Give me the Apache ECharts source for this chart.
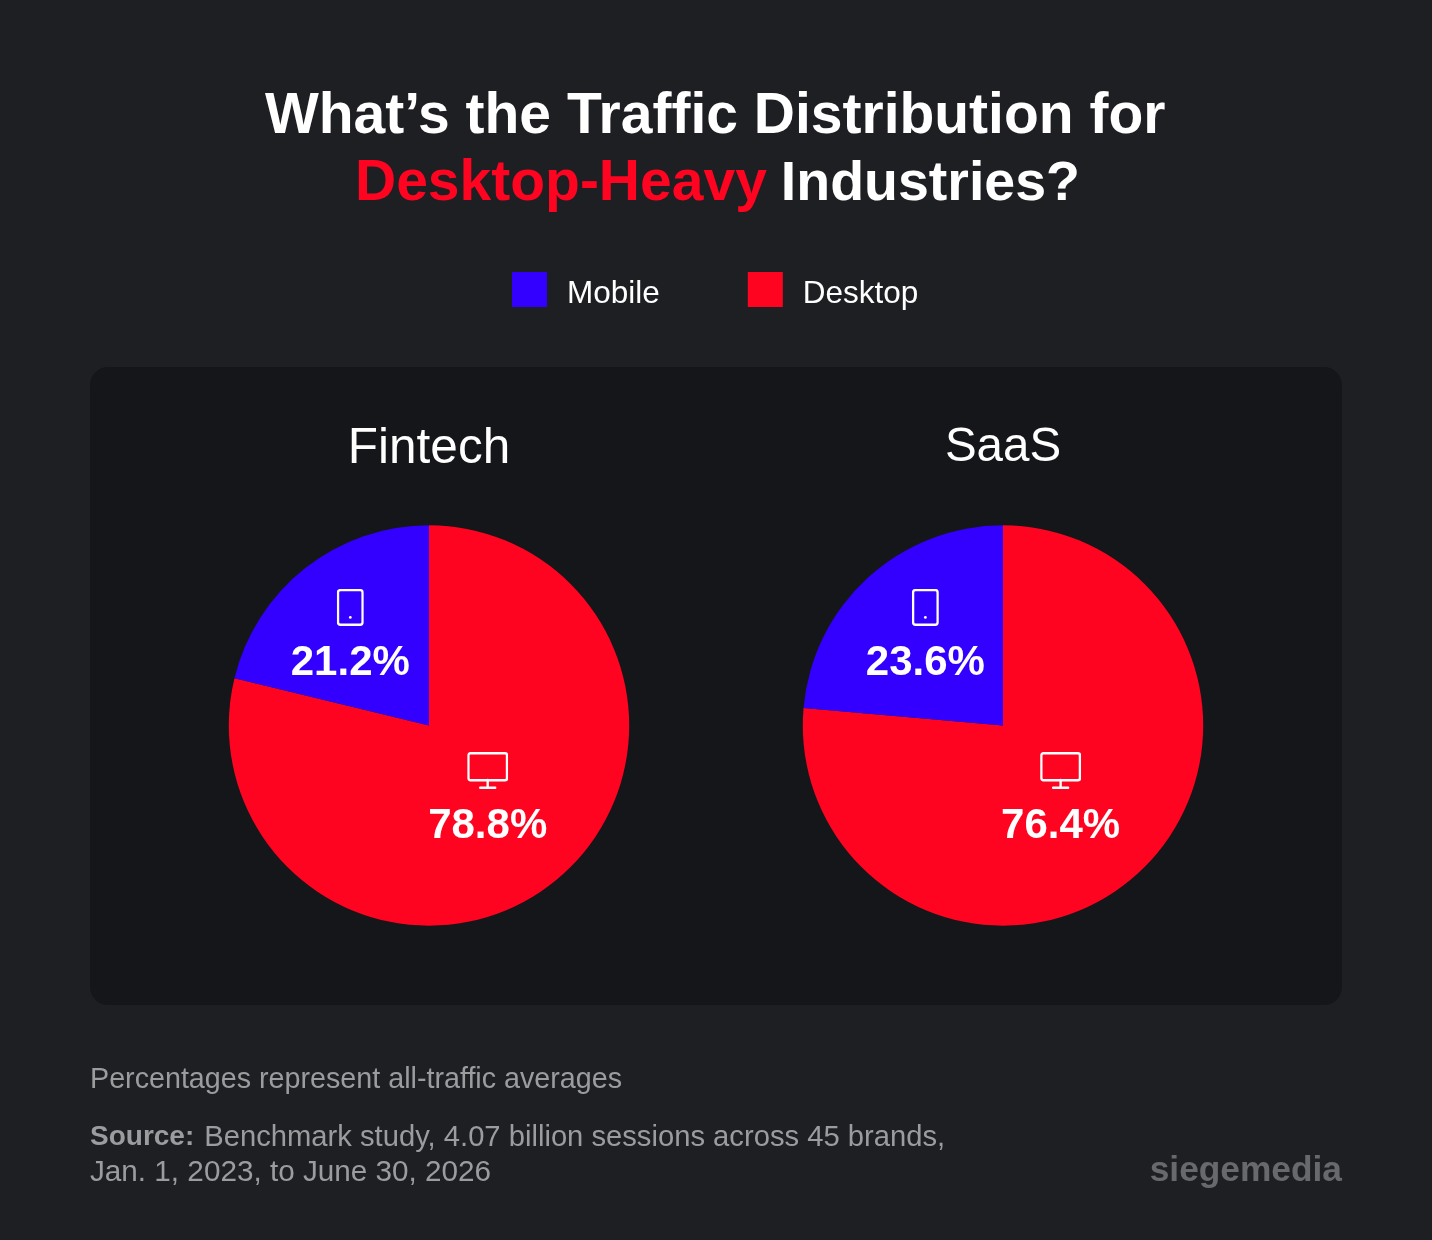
<!DOCTYPE html>
<html>
<head>
<meta charset="utf-8">
<style>html,body{margin:0;padding:0;background:#1e1f23}#c{width:1432px;height:1240px}</style>
<script src="https://cdn.jsdelivr.net/npm/echarts@6/dist/echarts.min.js"></script>
</head>
<body>
<div id="c"></div>
<script>
const segments = ['Mobile', 'Desktop'];
const industries = ['Fintech', 'SaaS'];
const mobileShare = [21.2, 23.6];
const desktopShare = [78.8, 76.4];
const titleLine1 = 'What’s the Traffic Distribution for';
const titleRed = 'Desktop-Heavy';
const titleRest = 'Industries?';
const noteLine = 'Percentages represent all-traffic averages';
const sourceBold = 'Source:';
const sourceLine1 = 'Benchmark study, 4.07 billion sessions across 45 brands,';
const sourceLine2 = 'Jan. 1, 2023, to June 30, 2026';
const brand = 'siegemedia';

const FONT = '"Liberation Sans", Arial, sans-serif';
const BLUE = '#3300ff', RED = '#ff0420';
const centers = [[429, 725.5], [1003, 725.5]];
const mobileOffsets = [[-15, -14], [-8, -19]];
const desktopOffsets = [[-5, -13], [-12, -8]];

const svg = s => 'data:image/svg+xml;charset=utf-8,' + encodeURIComponent(s);
const phoneIcon = svg('<svg xmlns="http://www.w3.org/2000/svg" width="27" height="37" viewBox="0 0 27 37"><rect x="1.2" y="1.2" width="24.6" height="34.6" rx="2.5" fill="none" stroke="#fff" stroke-width="2.4"/><circle cx="13.5" cy="28.5" r="1.4" fill="#fff"/></svg>');
const screenIcon = svg('<svg xmlns="http://www.w3.org/2000/svg" width="41" height="37" viewBox="0 0 41 37"><rect x="1.2" y="1.2" width="38.6" height="27" rx="2" fill="none" stroke="#fff" stroke-width="2.4"/><path d="M20.5 28v7.5M13 35.7h15" fill="none" stroke="#fff" stroke-width="2.4" stroke-linecap="round"/></svg>');

const richLabel = {
  phone: {width: 27, height: 37, backgroundColor: {image: phoneIcon}, lineHeight: 66},
  screen: {width: 41, height: 37, backgroundColor: {image: screenIcon}, lineHeight: 66},
  pct: {color: '#fff', fontFamily: FONT, fontWeight: 'bold', fontSize: 42, lineHeight: 46, align: 'center'}
};

const series = industries.map((name, i) => ({
  type: 'pie',
  name,
  center: centers[i],
  radius: [0, 200.2],
  startAngle: 90,
  clockwise: true,
  silent: true,
  animation: false,
  labelLine: {show: false},
  itemStyle: {borderWidth: 0},
  label: {show: true, position: 'inside', rich: richLabel, align: 'center', verticalAlign: 'middle'},
  data: [
    {name: segments[1], value: desktopShare[i], itemStyle: {color: RED},
     label: {offset: desktopOffsets[i], formatter: p => `{screen|}\n{pct|${p.value.toFixed(1)}%}`}},
    {name: segments[0], value: mobileShare[i], itemStyle: {color: BLUE},
     label: {offset: mobileOffsets[i], formatter: p => `{phone|}\n{pct|${p.value.toFixed(1)}%}`}}
  ]
}));

const txt = (o) => ({padding: 0, ...o});
const note = {color: '#9b9c9e', fontFamily: FONT, fontWeight: 'normal', fontSize: 28.7};

const option = {
  backgroundColor: '#1e1f23',
  animation: false,
  title: [
    txt({text: titleLine1, left: 265, top: 89, textStyle: {color: '#fff', fontFamily: FONT, fontWeight: 'bold', fontSize: 57}}),
    txt({text: `{r|${titleRed}}{w|${titleRest}}`, left: 355, top: 156, textStyle: {rich: {
      r: {color: RED, fontFamily: FONT, fontWeight: 'bold', fontSize: 57},
      w: {color: '#fff', fontFamily: FONT, fontWeight: 'bold', fontSize: 55.5, padding: [0, 0, 0, 14]}}}}),
    txt({text: industries[0], left: 429, textAlign: 'center', top: 424, textStyle: {color: '#fff', fontFamily: FONT, fontWeight: 'normal', fontSize: 49.5}}),
    txt({text: industries[1], left: 1003, textAlign: 'center', top: 424, textStyle: {color: '#fff', fontFamily: FONT, fontWeight: 'normal', fontSize: 47.5}}),
    txt({text: noteLine, left: 90, top: 1066, textStyle: note}),
    txt({text: `{b|${sourceBold}}{n|${sourceLine1}}`, left: 90, top: 1123, textStyle: {rich: {
      b: {...note, fontWeight: 'bold', fontSize: 28},
      n: {...note, fontSize: 29.2, padding: [0, 0, 0, 10]}}}}),
    txt({text: sourceLine2, left: 90, top: 1158, textStyle: {...note, fontSize: 29.7}}),
    txt({text: brand, right: 90, top: 1154, textStyle: {color: '#68696c', fontFamily: FONT, fontWeight: 'bold', fontSize: 35.3}})
  ],
  legend: {
    data: segments,
    left: 512, top: 272, padding: 0,
    itemWidth: 35, itemHeight: 35, itemGap: 88,
    icon: 'rect', selectedMode: false,
    formatter: '{t|{name}}',
    textStyle: {padding: [0, 0, 0, 15], rich: {t: {color: '#fff', fontFamily: FONT, fontSize: 31.5, padding: [10, 0, 0, 0]}}}
  },
  graphic: [{
    type: 'rect', z: -10, silent: true,
    shape: {x: 90, y: 367, width: 1252, height: 638, r: 18},
    style: {fill: '#15161a'}
  }],
  series
};
echarts.init(document.getElementById('c')).setOption(option);
</script>
</body>
</html>
